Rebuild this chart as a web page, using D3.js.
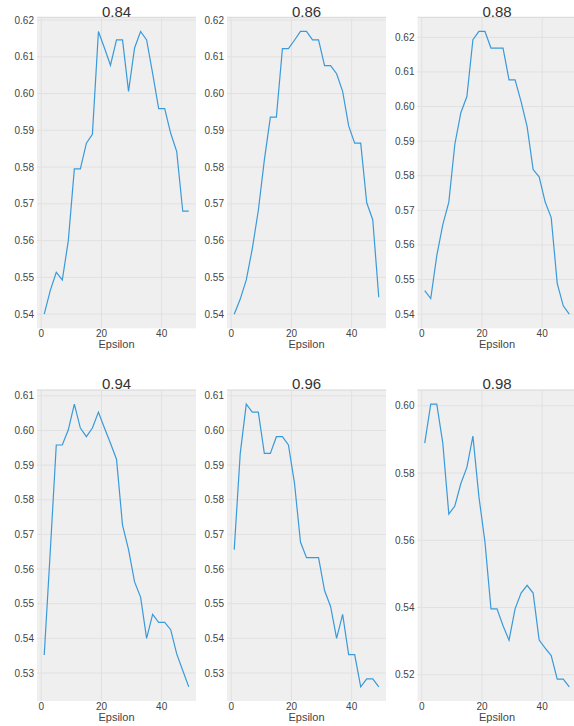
<!DOCTYPE html>
<html>
<head>
<meta charset="utf-8">
<script src="https://cdn.jsdelivr.net/npm/d3@7"></script>
<style>
  body { margin: 0; background: #fff; font-family: "Liberation Sans", Arial, sans-serif; }
</style>
</head>
<body>
<script>

// panel titles (decay values)
var titles = ["0.84", "0.86", "0.88", "0.94", "0.96", "0.98"];

// epsilon values on the x axis
var epsilon = d3.range(1, 50, 2);

// accuracy for each panel
var acc084 = [0.5400, 0.5464, 0.5514, 0.5493, 0.5600, 0.5795, 0.5795, 0.5865, 0.5889, 0.6169,
              0.6124, 0.6077, 0.6146, 0.6146, 0.6006, 0.6124, 0.6169, 0.6146, 0.6055, 0.5959,
              0.5959, 0.5892, 0.5842, 0.5680, 0.5680];
var acc086 = [0.5400, 0.5441, 0.5493, 0.5578, 0.5682, 0.5819, 0.5936, 0.5936, 0.6122, 0.6122,
              0.6145, 0.6169, 0.6169, 0.6146, 0.6146, 0.6076, 0.6076, 0.6054, 0.6006, 0.5912,
              0.5865, 0.5865, 0.5703, 0.5657, 0.5446];
var acc088 = [0.5468, 0.5445, 0.5569, 0.5659, 0.5724, 0.5891, 0.5982, 0.6029, 0.6193, 0.6217,
              0.6217, 0.6169, 0.6169, 0.6169, 0.6077, 0.6077, 0.6014, 0.5942, 0.5818, 0.5797,
              0.5724, 0.5679, 0.5489, 0.5424, 0.5400];
var acc094 = [0.5352, 0.5650, 0.5958, 0.5958, 0.6002, 0.6076, 0.6007, 0.5982, 0.6007, 0.6053,
              0.6007, 0.5963, 0.5917, 0.5727, 0.5656, 0.5563, 0.5519, 0.5400, 0.5469, 0.5446,
              0.5446, 0.5425, 0.5355, 0.5307, 0.5260];
var acc096 = [0.5656, 0.5934, 0.6076, 0.6053, 0.6053, 0.5934, 0.5934, 0.5982, 0.5982, 0.5958,
              0.5849, 0.5678, 0.5633, 0.5633, 0.5633, 0.5538, 0.5492, 0.5400, 0.5469, 0.5353,
              0.5353, 0.5260, 0.5283, 0.5283, 0.5260];
var acc098 = [0.5889, 0.6005, 0.6005, 0.5889, 0.5678, 0.5702, 0.5769, 0.5817, 0.5910, 0.5729,
              0.5595, 0.5396, 0.5396, 0.5346, 0.5303, 0.5396, 0.5443, 0.5466, 0.5443, 0.5303,
              0.5279, 0.5257, 0.5187, 0.5187, 0.5164];

var series = [acc084, acc086, acc088, acc094, acc096, acc098];

// tick settings
var xTicks = [0, 20, 40];
var yStep = [0.01, 0.01, 0.01, 0.01, 0.01, 0.02];

// layout
var width = 574, height = 726;
var panelW = 159;
var colLeft = [37, 227, 417.5];
var rowTop = [17.3, 390];
var panelH = 311;

var svg = d3.select("body").append("svg")
    .attr("width", width)
    .attr("height", height);

// draw each small panel
series.forEach(function(vals, i) {

    var col = i % 3, row = Math.floor(i / 3);
    var left = colLeft[col], top = rowTop[row];

    // 5% padding round the data like ggplot
    var xExt = d3.extent(epsilon), yExt = d3.extent(vals);
    var xPad = (xExt[1] - xExt[0]) * 0.05, yPad = (yExt[1] - yExt[0]) * 0.05;

    var x = d3.scaleLinear()
        .domain([xExt[0] - xPad, xExt[1] + xPad])
        .range([0, panelW]);
    var y = d3.scaleLinear()
        .domain([yExt[0] - yPad, yExt[1] + yPad])
        .range([panelH, 0]);

    var step = yStep[i];
    var yTicks = d3.range(Math.ceil(y.domain()[0] / step - 1e-6) * step, y.domain()[1], step);

    var g = svg.append("g")
        .attr("transform", "translate(" + left + "," + top + ")");

    // background
    g.append("rect")
        .attr("width", panelW)
        .attr("height", panelH)
        .attr("fill", "#efefef");

    g.append("line")
        .attr("x1", 0).attr("x2", panelW)
        .attr("y1", 0).attr("y2", 0)
        .attr("stroke", "#d6d6d6")
        .attr("stroke-width", 1);

    // gridlines
    g.selectAll(".hgrid")
        .data(yTicks)
        .enter().append("line")
        .attr("x1", 0).attr("x2", panelW)
        .attr("y1", function(d) { return y(d); })
        .attr("y2", function(d) { return y(d); })
        .attr("stroke", "#e1e1e1")
        .attr("stroke-width", 1);

    g.selectAll(".vgrid")
        .data(xTicks)
        .enter().append("line")
        .attr("y1", 0).attr("y2", panelH)
        .attr("x1", function(d) { return x(d); })
        .attr("x2", function(d) { return x(d); })
        .attr("stroke", "#e1e1e1")
        .attr("stroke-width", 1);

    // y tick labels
    g.selectAll(".ylab")
        .data(yTicks)
        .enter().append("text")
        .attr("x", -3)
        .attr("y", function(d) { return y(d); })
        .attr("dy", "0.35em")
        .attr("text-anchor", "end")
        .attr("font-size", "10px")
        .attr("fill", "#444")
        .text(function(d) { return d3.format(".2f")(d); });

    // x tick labels
    g.selectAll(".xlab")
        .data(xTicks)
        .enter().append("text")
        .attr("x", function(d) { return x(d); })
        .attr("y", panelH + 9)
        .attr("text-anchor", "middle")
        .attr("font-size", "10px")
        .attr("fill", "#444")
        .text(function(d) { return d; });

    // axis title
    g.append("text")
        .attr("x", panelW / 2)
        .attr("y", panelH + 20)
        .attr("text-anchor", "middle")
        .attr("font-size", "11px")
        .attr("fill", "#444")
        .text("Epsilon");

    // panel title
    g.append("text")
        .attr("x", panelW / 2)
        .attr("y", -0.6)
        .attr("text-anchor", "middle")
        .attr("font-size", "15px")
        .attr("fill", "#333")
        .text(titles[i]);

    // the line
    var line = d3.line()
        .x(function(d, j) { return x(epsilon[j]); })
        .y(function(d) { return y(d); });

    g.append("path")
        .datum(vals)
        .attr("d", line)
        .attr("fill", "none")
        .attr("stroke", "#3a9ad9")
        .attr("stroke-width", 1.2);
});

</script>
</body>
</html>
